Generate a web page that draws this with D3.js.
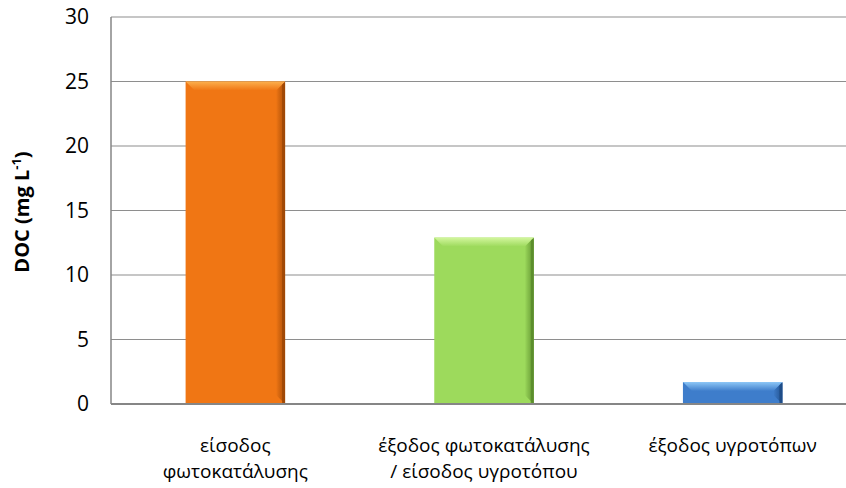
<!DOCTYPE html>
<html>
<head>
<meta charset="utf-8">
<script src="https://cdn.jsdelivr.net/npm/d3@7"></script>
<style>
  html, body { margin: 0; padding: 0; background: #fff; }
  svg { display: block; }
  text { font-family: "Open Sans", "Noto Sans", sans-serif; fill: #000; }
</style>
</head>
<body>
<svg id="chart" width="846" height="488"></svg>
<script>
// DOC concentrations along the treatment train
const categories = [
  ["είσοδος", "φωτοκατάλυσης"],
  ["έξοδος φωτοκατάλυσης", "/ είσοδος υγροτόπου"],
  ["έξοδος υγροτόπων"]
];
const values = [25.0, 12.9, 1.7];
const yTicks = [0, 5, 10, 15, 20, 25, 30];
const palettes = [
  { base: "#F07614", light: "#FCB04E", dark: "#9C4606" },
  { base: "#9DDA5C", light: "#D3F69E", dark: "#58892A" },
  { base: "#3E7DCB", light: "#8CC6F6", dark: "#1D4A84" }
];

const svg = d3.select("#chart");
const W = 846, H = 488;
const margin = { left: 111, right: -11, top: 17, bottom: 84 };
const x0 = margin.left, x1 = W - margin.right;
const yTop = margin.top, yBot = H - margin.bottom;

const x = d3.scaleBand()
  .domain(d3.range(categories.length))
  .range([x0, x1])
  .paddingInner(0.6)
  .paddingOuter(0.3);

const y = d3.scaleLinear().domain([0, 30]).range([yBot, yTop]);

const defs = svg.append("defs");
palettes.forEach((p, i) => {
  const gt = defs.append("linearGradient")
    .attr("id", "top" + i).attr("x1", 0).attr("y1", 0).attr("x2", 0).attr("y2", 1);
  gt.append("stop").attr("offset", 0).attr("stop-color", p.light);
  gt.append("stop").attr("offset", 1).attr("stop-color", p.base);
  const gr = defs.append("linearGradient")
    .attr("id", "right" + i).attr("x1", 0).attr("y1", 0).attr("x2", 1).attr("y2", 0);
  gr.append("stop").attr("offset", 0).attr("stop-color", p.base);
  gr.append("stop").attr("offset", 1).attr("stop-color", p.dark).attr("stop-opacity", 0.75);
});

// horizontal gridlines
svg.append("g")
  .selectAll("line")
  .data(yTicks.filter(t => t > 0))
  .join("line")
  .attr("x1", x0).attr("x2", x1)
  .attr("y1", d => y(d)).attr("y2", d => y(d))
  .attr("stroke", "#8E8E8E").attr("stroke-width", 1.2);

// y axis with labels only
const yAxis = svg.append("g")
  .attr("transform", `translate(${x0},0)`)
  .call(d3.axisLeft(y).tickValues(yTicks).tickSize(0).tickPadding(22));
yAxis.select(".domain").remove();
yAxis.selectAll("text")
  .style("font-family", '"Open Sans", sans-serif')
  .style("font-size", "21px")
  .attr("fill", "#000");

// bars with bevelled edges
const bev = 9;
const bars = svg.append("g").selectAll("g")
  .data(values)
  .join("g");

bars.each(function (v, i) {
  const g = d3.select(this);
  const p = palettes[i];
  const bx = x(i), bw = x.bandwidth();
  const by = y(v), bh = y(0) - y(v);
  const b = Math.min(bev, bh / 2);
  g.append("rect")
    .attr("x", bx).attr("y", by).attr("width", bw).attr("height", bh)
    .attr("fill", p.base);
  // right edge (shadowed)
  g.append("polygon")
    .attr("points", [[bx + bw, by], [bx + bw - b, by + b], [bx + bw - b, by + bh - b], [bx + bw, by + bh]].join(" "))
    .attr("fill", `url(#right${i})`);
  g.append("rect")
    .attr("x", bx + bw - 3).attr("y", by + 1).attr("width", 3).attr("height", bh - 1)
    .attr("fill", p.dark).attr("opacity", 0.85);
  // top edge (highlight)
  g.append("polygon")
    .attr("points", [[bx, by], [bx + bw, by], [bx + bw - b, by + b], [bx + b, by + b]].join(" "))
    .attr("fill", `url(#top${i})`);
});

// axis lines
svg.append("line")
  .attr("x1", x0).attr("x2", x0).attr("y1", yTop).attr("y2", yBot)
  .attr("stroke", "#868686").attr("stroke-width", 1.5);
svg.append("line")
  .attr("x1", x0).attr("x2", x1).attr("y1", yBot).attr("y2", yBot)
  .attr("stroke", "#868686").attr("stroke-width", 2);

// category labels, one text element per line
const labelLines = categories.flatMap((lines, i) =>
  lines.map((t, j) => ({ i, j, t })));
svg.append("g").selectAll("text")
  .data(labelLines)
  .join("text")
  .attr("text-anchor", "middle")
  .style("font-size", "19px")
  .attr("x", d => x(d.i) + x.bandwidth() / 2)
  .attr("y", d => 452 + d.j * 26)
  .text(d => d.t);

// y axis title
const title = svg.append("text")
  .attr("transform", `translate(29,212) rotate(-90)`)
  .attr("text-anchor", "middle")
  .style("font-size", "20px")
  .style("font-weight", "bold");
title.append("tspan").text("DOC (mg L");
title.append("tspan").attr("dy", -8).style("font-size", "13px").text("-1");
title.append("tspan").attr("dy", 8).text(")");
</script>
</body>
</html>
